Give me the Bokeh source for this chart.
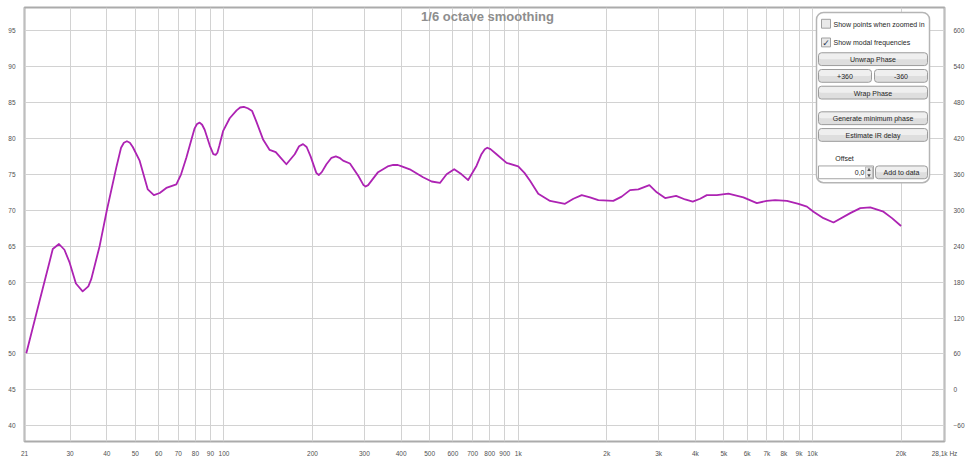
import numpy as np
from bokeh.plotting import figure
from bokeh.models import FixedTicker, LinearAxis, Range1d, Label
from bokeh.core.properties import value
from bokeh.embed import file_html
from bokeh.resources import INLINE

freq_hz = [21.3, 23.6, 25.5, 26.2, 27.5, 28.7, 29.9, 31.4, 33.1, 34.6,
           35.4, 37.8, 40.0, 43.1, 44.7, 45.7, 46.8, 47.9, 49.0, 51.7,
           55.1, 57.8, 60.5, 63.7, 68.9, 71.5, 74.5, 77.5, 79.5, 81.0,
           82.7, 84.3, 86.0, 89.5, 92.0, 93.7, 95.0, 96.5, 99.3, 104.6,
           110.4, 113.5, 116.8, 120.5, 124.7, 128.7, 136.0, 143.0, 150.0, 156.0,
           163.0, 174.0, 180.0, 185.7, 191.0, 197.0, 206.0, 210.0, 215.0, 223.0,
           232.0, 240.0, 247.0, 254.0, 268.0, 286.0, 298.0, 303.0, 309.0, 334.0,
           360.0, 376.0, 390.0, 402.0, 428.0, 475.0, 508.0, 542.0, 571.0, 606.0,
           642.0, 676.0, 722.0, 750.0, 770.0, 785.0, 805.0, 844.0, 913.0, 1000.0,
           1050.0, 1097.0, 1170.0, 1283.0, 1442.0, 1540.0, 1644.0, 1754.0, 1872.0, 2104.0,
           2247.0, 2399.0, 2560.0, 2791.0, 2957.0, 3157.0, 3440.0, 3692.0, 3919.0, 4152.0,
           4375.0, 4731.0, 5179.0, 5824.0, 6472.0, 7000.0, 7468.0, 8188.0, 8963.0, 9576.0,
           10080.0, 10900.0, 11790.0, 13440.0, 14540.0, 15720.0, 17430.0, 18630.0, 20000.0]
spl_db = [50.1, 57.3, 62.7, 64.6, 65.3, 64.5, 62.7, 59.8, 58.7, 59.4,
          60.4, 65.0, 70.0, 76.0, 78.7, 79.4, 79.6, 79.4, 78.8, 76.9,
          72.9, 72.1, 72.4, 73.1, 73.6, 75.0, 77.3, 79.8, 81.4, 82.0,
          82.2, 81.9, 81.2, 79.0, 77.8, 77.7, 78.0, 79.0, 81.0, 82.8,
          83.9, 84.3, 84.4, 84.2, 83.8, 82.4, 79.8, 78.4, 78.1, 77.3,
          76.4, 77.8, 78.9, 79.2, 78.8, 77.5, 75.2, 74.9, 75.3, 76.4,
          77.3, 77.5, 77.3, 76.9, 76.5, 74.8, 73.5, 73.3, 73.5, 75.3,
          76.1, 76.3, 76.3, 76.1, 75.7, 74.6, 74.0, 73.8, 75.0, 75.7,
          75.0, 74.2, 76.2, 77.8, 78.5, 78.7, 78.5, 77.8, 76.6, 76.1,
          75.2, 74.1, 72.3, 71.3, 70.9, 71.6, 72.1, 71.8, 71.4, 71.3,
          71.9, 72.8, 72.9, 73.5, 72.5, 71.7, 72.0, 71.5, 71.2, 71.6,
          72.1, 72.1, 72.3, 71.8, 71.0, 71.3, 71.4, 71.3, 70.9, 70.5,
          69.8, 68.9, 68.3, 69.6, 70.3, 70.4, 69.8, 68.9, 67.8]

x_ticks = [21, 30, 40, 50, 60, 70, 80, 90, 100, 200, 300, 400, 500, 600, 700, 800, 900,
           1000, 2000, 3000, 4000, 5000, 6000, 7000, 8000, 9000, 10000, 20000, 28100]
x_tick_labels = ["21", "30", "40", "50", "60", "70", "80", "90", "100", "200", "300",
                 "400", "500", "600", "700", "800", "900", "1k", "2k", "3k", "4k", "5k",
                 "6k", "7k", "8k", "9k", "10k", "20k", "28,1k Hz"]
db_ticks = [40, 45, 50, 55, 60, 65, 70, 75, 80, 85, 90, 95]
deg_ticks = [-60, 0, 60, 120, 180, 240, 300, 360, 420, 480, 540, 600]

check_labels = ["Show points when zoomed in", "Show modal frequencies"]
check_state = [False, True]
button_labels = ["Unwrap Phase", "+360", "-360", "Wrap Phase",
                 "Generate minimum phase", "Estimate IR delay", "Add to data"]

F_MIN, F_MAX = 21, 28100
DB_MIN, DB_MAX = 37.81, 98.22
# plot frame in page pixels, used to place the side panel
FL, FR, FT, FB = 24, 944, 7, 448


def fx(px):
    return F_MIN * (F_MAX / F_MIN) ** ((px - FL) / (FR - FL))


def fy(py):
    return DB_MAX - (py - FT) * (DB_MAX - DB_MIN) / (FB - FT)


FONT = value("Liberation Sans")

p = figure(width=975, height=459, x_axis_type="log",
           x_range=Range1d(F_MIN - 0.001, F_MAX + 0.01), y_range=Range1d(DB_MIN, DB_MAX),
           output_backend="svg", toolbar_location=None,
           min_border_left=FL, min_border_right=975 - FR, min_border_top=FT,
           min_border_bottom=459 - FB)
p.background_fill_color = "white"
p.border_fill_color = "white"
p.outline_line_color = "#ababab"
p.outline_line_width = 2

p.extra_y_ranges = {"deg": Range1d((DB_MIN - 45) * 12, (DB_MAX - 45) * 12)}
p.add_layout(LinearAxis(y_range_name="deg"), "right")

p.xaxis.ticker = FixedTicker(ticks=x_ticks)
p.xaxis.major_label_overrides = dict(zip(x_ticks, x_tick_labels))
p.yaxis[0].ticker = FixedTicker(ticks=db_ticks)
p.yaxis[1].ticker = FixedTicker(ticks=deg_ticks)

for ax in p.xaxis + p.yaxis:
    ax.axis_line_color = None
    ax.major_tick_line_color = None
    ax.minor_tick_line_color = None
    ax.major_label_text_font = "Liberation Sans"
    ax.major_label_text_font_size = "6.5px"
    ax.major_label_text_color = "#505050"
    ax.major_label_standoff = 3
p.xaxis.major_label_standoff = 2

p.xgrid.ticker = FixedTicker(ticks=x_ticks)
p.ygrid.ticker = FixedTicker(ticks=db_ticks)
p.grid.grid_line_color = "#d2d2d2"
p.grid.grid_line_width = 1

p.line(freq_hz, spl_db, line_color="#ad23b3", line_width=1.8, line_join="round")

# unit labels and title
for txt, px, py in [("dB", 17, 3), ("deg", 953, 4)]:
    p.add_layout(Label(x=fx(px), y=fy(py), text=txt, text_align="center",
                       text_baseline="middle", text_font="Liberation Sans",
                       text_font_size="6.5px", text_color="#505050"))
p.add_layout(Label(x=fx(487), y=fy(16), text="1/6 octave smoothing", text_align="center",
                   text_baseline="middle", text_font="Liberation Sans",
                   text_font_style="bold", text_font_size="13px", text_color="#8e8e8e"))

# side panel of the graph window
p.quad(left=[fx(816)], right=[fx(929)], top=[fy(12)], bottom=[fy(185)],
       fill_color="white", line_color="#b5b5b5", line_width=1.5, border_radius=7)

btn_box = [(818, 927, 53, 66), (818, 871, 70, 83), (874, 927, 70, 83), (818, 927, 87, 100),
           (818, 927, 113, 126), (818, 927, 130, 143), (875, 927, 168, 181)]
bl = [fx(b[0]) for b in btn_box]
br = [fx(b[1]) for b in btn_box]
bt = [fy(b[2]) for b in btn_box]
bm = [fy((b[2] + b[3]) / 2) for b in btn_box]
bb = [fy(b[3]) for b in btn_box]
p.quad(left=bl, right=br, top=bt, bottom=bb, fill_color="#dedede", line_color=None,
       border_radius=3)
p.quad(left=bl, right=br, top=bt, bottom=bm, fill_color="#efefef", line_color=None,
       border_radius=3)
p.quad(left=bl, right=br, top=bt, bottom=bb, fill_color=None, line_color="#9c9c9c",
       line_width=1, border_radius=3)
p.text(x=[fx((b[0] + b[1]) / 2) for b in btn_box], y=[fy((b[2] + b[3]) / 2 + 0.5) for b in btn_box],
       text=button_labels, text_align="center", text_baseline="middle", text_font=FONT,
       text_font_size="7px", text_color="#262626")

# check boxes
cb_y = [23.5, 42.5]
p.quad(left=[fx(821)] * 2, right=[fx(830)] * 2, top=[fy(y - 4.5) for y in cb_y],
       bottom=[fy(y + 4.5) for y in cb_y], fill_color="#e9e9e9", line_color="#a0a0a0",
       line_width=1)
p.text(x=[fx(833)] * 2, y=[fy(y + 0.5) for y in cb_y], text=check_labels, text_align="left",
       text_baseline="middle", text_font=FONT, text_font_size="7px", text_color="#262626")
ticked = [y for y, s in zip(cb_y, check_state) if s]
p.text(x=[fx(825.5)] * len(ticked), y=[fy(y + 0.5) for y in ticked], text=["✓"] * len(ticked),
       text_align="center", text_baseline="middle", text_font=value("DejaVu Sans"),
       text_font_size="9px", text_color="#2b3550", text_font_style="bold")

# offset entry
p.text(x=[fx(844)], y=[fy(160)], text=["Offset"], text_align="center", text_baseline="middle",
       text_font=FONT, text_font_size="7px", text_color="#262626")
p.quad(left=[fx(818)], right=[fx(873)], top=[fy(168)], bottom=[fy(181)],
       fill_color="white", line_color="#a5a5a5", line_width=1)
p.quad(left=[fx(865)], right=[fx(872)], top=[fy(169)], bottom=[fy(180)],
       fill_color="#e6e6e6", line_color="#b0b0b0", line_width=0.8)
p.scatter(x=[fx(868.5)] * 2, y=[fy(172), fy(177.5)], marker=["triangle", "inverted_triangle"],
          size=3.5, fill_color="#555555", line_color=None)
p.text(x=[fx(864)], y=[fy(175)], text=["0,0"], text_align="right", text_baseline="middle",
       text_font=FONT, text_font_size="7px", text_color="#262626")

open("out.html", "w").write(file_html(p, INLINE))
